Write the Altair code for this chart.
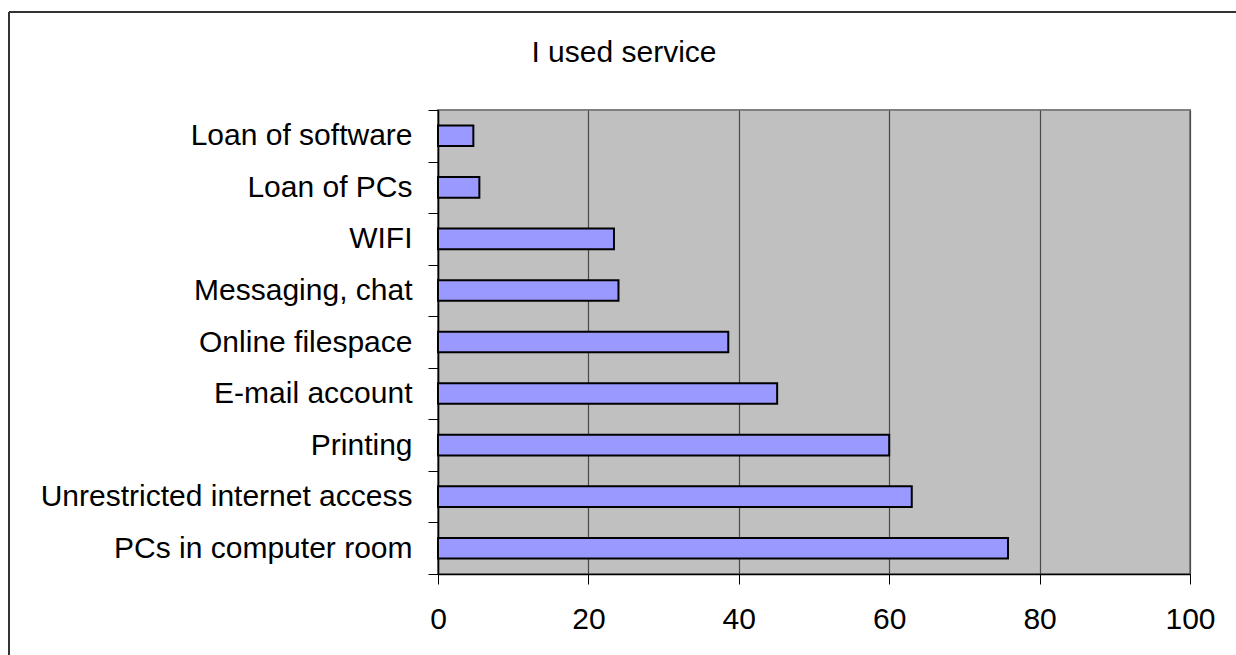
import altair as alt
import pandas as pd

# Services (top to bottom) and share of respondents who used them, in percent
services = [
    "Loan of software",
    "Loan of PCs",
    "WIFI",
    "Messaging, chat",
    "Online filespace",
    "E-mail account",
    "Printing",
    "Unrestricted internet access",
    "PCs in computer room",
]
used_pct = [4.7, 5.5, 23.4, 24.0, 38.6, 45.1, 60.0, 63.0, 75.8]
x_ticks = [0, 20, 40, 60, 80, 100]
title_text = "I used service"

df = pd.DataFrame({"service": services, "used": used_pct})
single = alt.Data(values=[{}])  # one datum for decoration layers

FONT = "Arial, Liberation Sans, sans-serif"
PLOT_W, PLOT_H = 752, 464
PAD_L, PAD_T = 438, 110

bars = (
    alt.Chart(df)
    .mark_bar(color="#9999FF", stroke="#000000", strokeWidth=2, height=alt.RelativeBandSize(0.4))
    .encode(
        x=alt.X(
            "used:Q",
            scale=alt.Scale(domain=[0, 100], nice=False),
            axis=alt.Axis(
                values=x_ticks,
                title=None,
                grid=True,
                gridColor="#4a4a4a",
                gridWidth=1.2,
                domainColor="#000000",
                domainWidth=1.5,
                tickColor="#000000",
                tickSize=10,
                tickWidth=1,
                labelFont=FONT,
                labelFontSize=30,
                labelColor="#000000",
                labelPadding=20,
                labelFlush=False,
            ),
        ),
        y=alt.Y(
            "service:N",
            sort=None,
            scale=alt.Scale(paddingInner=0, paddingOuter=0),
            axis=alt.Axis(
                title=None,
                grid=False,
                tickBand="extent",
                domainColor="#000000",
                domainWidth=1.5,
                tickColor="#000000",
                tickSize=10,
                tickWidth=1,
                labelFont=FONT,
                labelFontSize=30,
                labelColor="#000000",
                labelPadding=16,
                labelLimit=500,
            ),
        ),
    )
)

# Chart title, centred over the whole frame
title = alt.Chart(single).mark_text(
    text=title_text, font=FONT, fontSize=30, fontWeight="normal", color="#000000",
    align="center", baseline="alphabetic"
).encode(x=alt.value(624 - PAD_L), y=alt.value(62 - PAD_T))

# Outer chart frame (left and top edges)
frame_left = alt.Chart(single).mark_rule(color="#333333", strokeWidth=2).encode(
    x=alt.value(9 - PAD_L), y=alt.value(12 - PAD_T), y2=alt.value(700 - PAD_T)
)
frame_top = alt.Chart(single).mark_rule(color="#333333", strokeWidth=2).encode(
    x=alt.value(9 - PAD_L), x2=alt.value(1300 - PAD_L), y=alt.value(12 - PAD_T)
)

chart = (
    alt.layer(bars, title, frame_left, frame_top)
    .properties(
        width=PLOT_W,
        height=PLOT_H,
        background="#FFFFFF",
        padding={"left": PAD_L, "top": PAD_T, "right": 1236 - PAD_L - PLOT_W, "bottom": 655 - PAD_T - PLOT_H},
        autosize=alt.AutoSizeParams(type="none"),
    )
    .configure_view(fill="#C0C0C0", stroke="#808080", strokeWidth=2)
)

chart.save("out.html", embed_options={"renderer": "svg", "actions": False})
